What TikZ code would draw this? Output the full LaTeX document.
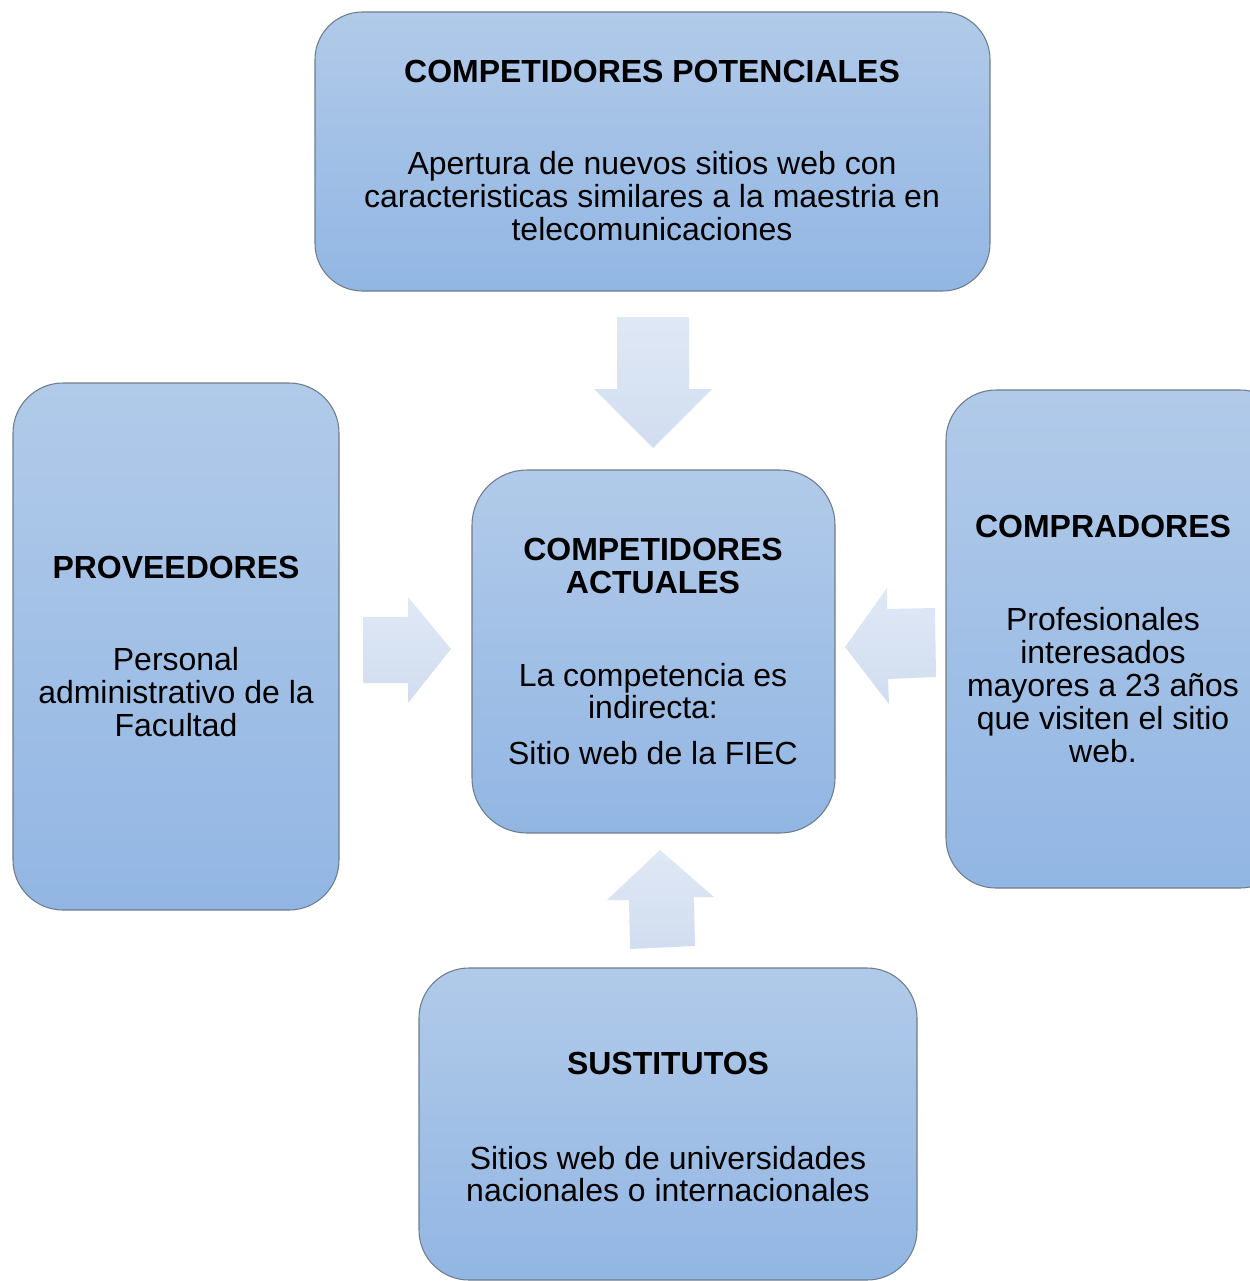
\documentclass[tikz,border=0pt]{standalone}
\usepackage{fontspec}
\setmainfont{Liberation Sans}
\usetikzlibrary{fit}
\definecolor{boxtop}{HTML}{B1CAE9}
\definecolor{boxbot}{HTML}{92B6E3}
\definecolor{boxline}{HTML}{6E7C8C}
\definecolor{arrtop}{HTML}{DFE8F5}
\definecolor{arrbot}{HTML}{D1DDF0}
\tikzset{
  box/.style={draw=boxline, line width=0.6pt, top color=boxtop, bottom color=boxbot, inner sep=0pt},
  blockarrow/.style={top color=arrtop, bottom color=arrbot, draw=none},
  title/.style={font=\fontsize{18.2}{18.7}\selectfont\bfseries, align=center, inner sep=0pt},
  body/.style={font=\fontsize{18.2}{18.7}\selectfont, align=center, inner sep=0pt}
}
\begin{document}
\begin{tikzpicture}[x=0.02cm, y=-0.02cm]
\useasboundingbox (0,0) rectangle (1250,1281);
\clip (0,0) rectangle (1250,1281);
% boxes
\node (top) [box, rounded corners=0.95cm, fit={(315,12) (990,291)}] {};
\node (left) [box, rounded corners=1.0cm, fit={(13,383) (339,910)}] {};
\node (center) [box, rounded corners=1.1cm, fit={(472,470) (835,833)}] {};
\node (right) [box, rounded corners=1.0cm, fit={(946,390) (1290,888)}] {};
\node (bottom) [box, rounded corners=1.0cm, fit={(419,968) (917,1280)}] {};
% block arrows
\path[blockarrow] (617,317) -- (689,317) -- (689,389) -- (712,389) -- (653,448) -- (594,389) -- (617,389) -- cycle;
\path[blockarrow] (363,617) -- (408,617) -- (408,597) -- (451,649) -- (408,703) -- (408,683) -- (363,683) -- cycle;
\path[blockarrow] (935,608) -- (887,609) -- (887,588) -- (845,647) -- (889,704) -- (888,679) -- (936,677) -- cycle;
\path[blockarrow] (660,850) -- (714,897) -- (694,897) -- (695,946) -- (630,949) -- (629,900) -- (607,900) -- cycle;
% texts
\node (toptitle) [title] at (652,71) {COMPETIDORES POTENCIALES};
\node (topbody) [body] at (652,196) {Apertura de nuevos sitios web con\\caracteristicas similares a la maestria en\\telecomunicaciones};
\node (lefttitle) [title] at (176,567) {PROVEEDORES};
\node (leftbody) [body] at (176,692) {Personal\\administrativo de la\\Facultad};
\node (centertitle) [title] at (653,566) {COMPETIDORES\\ACTUALES};
\node (centerbody) [body] at (653,691) {La competencia es\\indirecta:};
\node (centerbody2) [body] at (653,753) {Sitio web de la FIEC};
\node (righttitle) [title] at (1103,526) {COMPRADORES};
\node (rightbody) [body] at (1103,685) {Profesionales\\interesados\\mayores a 23 años\\que visiten el sitio\\web.};
\node (bottomtitle) [title] at (668,1063) {SUSTITUTOS};
\node (bottombody) [body] at (668,1174) {Sitios web de universidades\\nacionales o internacionales};
\end{tikzpicture}
\end{document}
